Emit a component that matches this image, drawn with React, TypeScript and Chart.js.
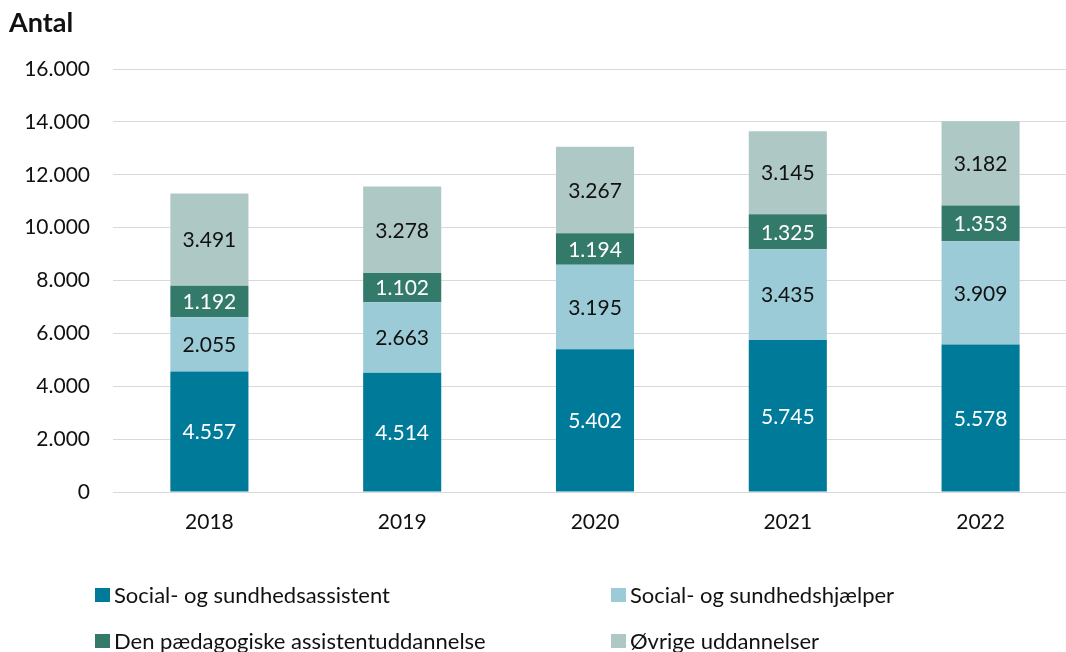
import React, { useEffect, useRef } from "react";
import { Chart, registerables } from "chart.js";

Chart.register(...registerables);

const categories = ["2018", "2019", "2020", "2021", "2022"];
const seriesNames = [
  "Social- og sundhedsassistent",
  "Social- og sundhedshjælper",
  "Den pædagogiske assistentuddannelse",
  "Øvrige uddannelser",
];
const assistent = [4557, 4514, 5402, 5745, 5578];
const hjaelper = [2055, 2663, 3195, 3435, 3909];
const paedagogisk = [1192, 1102, 1194, 1325, 1353];
const oevrige = [3491, 3278, 3267, 3145, 3182];
const seriesColors = ["#007A99", "#9CCBD8", "#347A6B", "#AEC9C5"];
const labelColors = ["#FFFFFF", "#111111", "#FFFFFF", "#111111"];
const yTicks = [0, 2000, 4000, 6000, 8000, 10000, 12000, 14000, 16000];

const FONT = "Lato, 'Open Sans', sans-serif";

function fmt(v: number): string {
  const s = Math.round(v).toString();
  return s.replace(/\B(?=(\d{3})+(?!\d))/g, ".");
}

const overlayPlugin = {
  id: "overlay",
  afterDatasetsDraw(chart: any) {
    const ctx = chart.ctx;
    ctx.save();
    ctx.font = `21px ${FONT}`;
    ctx.textAlign = "center";
    ctx.textBaseline = "middle";
    chart.data.datasets.forEach((ds: any, di: number) => {
      const meta = chart.getDatasetMeta(di);
      meta.data.forEach((bar: any, i: number) => {
        const { x, y, base } = bar.getProps(["x", "y", "base"], true);
        ctx.fillStyle = labelColors[di];
        ctx.fillText(fmt(ds.data[i]), x, (y + base) / 2 + 1);
      });
    });
    ctx.restore();
  },
  afterDraw(chart: any) {
    const ctx = chart.ctx;
    ctx.save();
    // title
    ctx.fillStyle = "#111111";
    ctx.font = `bold 27px ${FONT}`;
    ctx.textAlign = "left";
    ctx.textBaseline = "middle";
    ctx.fillText("Antal", 9, 23);
    // legend
    const pos = [
      [95, 595],
      [611, 595],
      [95, 641],
      [611, 641],
    ];
    ctx.font = `22px ${FONT}`;
    chart.data.datasets.forEach((ds: any, di: number) => {
      const [lx, ly] = pos[di];
      ctx.fillStyle = seriesColors[di];
      ctx.fillRect(lx, ly - 7, 15, 14);
      ctx.fillStyle = "#111111";
      ctx.fillText(ds.label, lx + 19, ly + 1);
    });
    ctx.restore();
  },
};

export default function App() {
  const ref = useRef<HTMLCanvasElement | null>(null);
  useEffect(() => {
    if (!ref.current) return;
    const data = [assistent, hjaelper, paedagogisk, oevrige];
    const chart = new Chart(ref.current, {
      type: "bar",
      data: {
        labels: categories,
        datasets: seriesNames.map((name, i) => ({
          label: name,
          data: data[i],
          backgroundColor: seriesColors[i],
          borderWidth: 0,
          categoryPercentage: 1,
          barPercentage: 0.405,
        })),
      },
      options: {
        responsive: false,
        animation: false,
        devicePixelRatio: 1,
        layout: { padding: { top: 69, left: 0, right: 0, bottom: 0 } },
        plugins: {
          legend: { display: false },
          tooltip: { enabled: false },
          title: { display: false },
        },
        scales: {
          x: {
            stacked: true,
            grid: { display: false, drawTicks: false },
            border: { display: true, color: "#d9d9d9", width: 1 },
            ticks: {
              color: "#111111",
              font: { family: FONT, size: 21 },
              padding: 18,
            },
            afterFit(scale: any) {
              scale.height = 160;
            },
          },
          y: {
            stacked: true,
            min: 0,
            max: 16000,
            afterBuildTicks(scale: any) {
              scale.ticks = yTicks.map((v) => ({ value: v }));
            },
            grid: { color: "#d9d9d9", lineWidth: 1, drawTicks: false },
            border: { display: false },
            ticks: {
              color: "#111111",
              font: { family: FONT, size: 21 },
              padding: 23,
              callback: (v: any) => fmt(Number(v)),
            },
            afterFit(scale: any) {
              scale.width = 113;
            },
          },
        },
      },
      plugins: [overlayPlugin],
    } as any);
    return () => chart.destroy();
  }, []);
  return (
    <div
      style={{
        position: "fixed",
        left: 0,
        top: 0,
        width: 1066,
        height: 652,
        overflow: "hidden",
        background: "#fff",
      }}
    >
      <canvas
        ref={ref}
        width={1077}
        height={652}
        style={{ display: "block", width: 1077, height: 652 }}
      />
    </div>
  );
}
